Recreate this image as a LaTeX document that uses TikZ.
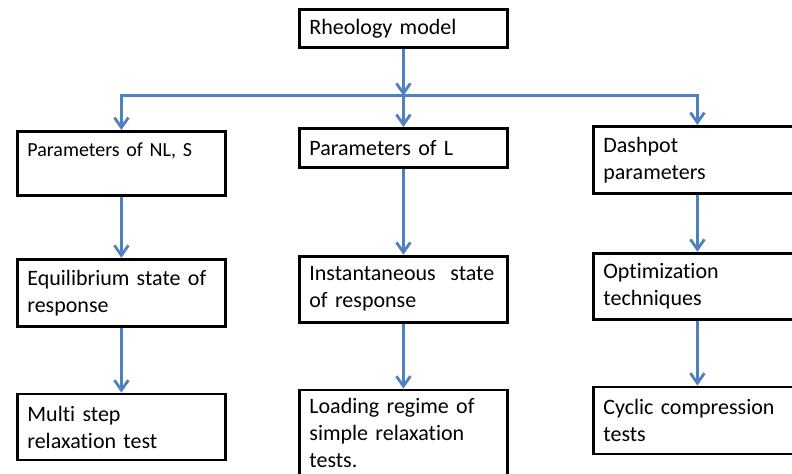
\documentclass[tikz,border=0pt]{standalone}
\usepackage{fontspec}
\setmainfont{Carlito}[Ligatures=NoCommon]
\usetikzlibrary{positioning, arrows.meta}
\definecolor{flowblue}{RGB}{79,129,189}
\tikzset{
  stage/.style={draw, line width=1.4pt, align=left, text width=94pt,
    inner xsep=5pt, inner ysep=4pt, font=\fontsize{11}{13.5}\selectfont},
  flow/.style={draw=flowblue, line width=1.4pt,
    -{Straight Barb[length=5pt,width=7pt]}}
}
\begin{document}
\begin{tikzpicture}[x=0.5pt, y=-0.5pt]
      \useasboundingbox (0,0) rectangle (792,474);%
      \clip (0,0) rectangle (792,474);%

      % rheology model
      \node [stage, anchor=north west, minimum height=19pt] (RM) at (298,8)
      {Rheology model};%
      \coordinate [below=23.5pt of RM.south] (split);%

      % parameters
      \node [stage, anchor=north west, minimum height=32pt,
      font=\fontsize{10}{13.5}\selectfont] (NLS) at (16,130)
      {Parameters of NL, S\\\mbox{}};%
      \node [stage, anchor=north west, minimum height=19.5pt] (PL) at (298,127)
      {Parameters of L};%
      \node [stage, anchor=north west, minimum height=33.5pt] (DP) at (592,125)
      {Dashpot\\parameters};%

      % state of response
      \node [stage, minimum height=33.5pt, below=30.5pt of NLS] (EQ)
      {Equilibrium state of\\response};%
      \node [stage, minimum height=33pt, below=43pt of PL] (IS)
      {Instantaneous\ \ state\\of response};%
      \node [stage, minimum height=33pt, below=28.5pt of DP] (OT)
      {Optimization\\techniques};%

      % tests
      \node [stage, minimum height=33pt, below=32.5pt of EQ] (MS)
      {Multi step\\relaxation test};%
      \node [stage, below=32.5pt of IS] (LR)
      {Loading regime of\\simple relaxation\\tests.\\\mbox{}};%
      \node [stage, minimum height=33.5pt, below=32.5pt of OT] (CC)
      {Cyclic compression\\tests};%

      % arrows
      \draw [flow] (RM) -- (split);%
      \draw [flow] (split) -- (PL);%
      \draw [flow] (split) -| (NLS);%
      \draw [flow] (split) -| (DP);%

      \draw [flow] (NLS) -- (EQ);%
      \draw [flow] (PL) -- (IS);%
      \draw [flow] (DP) -- (OT);%

      \draw [flow] (EQ) -- (MS);%
      \draw [flow] (IS) -- (LR);%
      \draw [flow] (OT) -- (CC);%
    \end{tikzpicture}
\end{document}
